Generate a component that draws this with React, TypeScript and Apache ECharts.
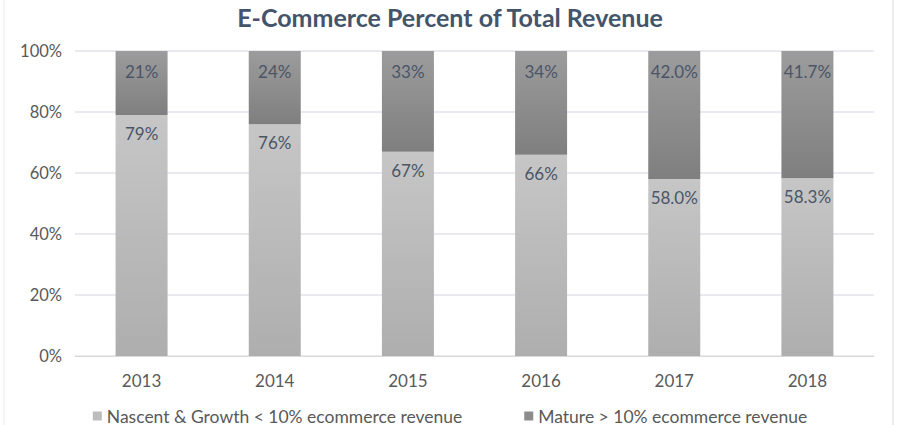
import React, { useEffect, useRef } from "react";
import * as echarts from "echarts";

const years = ["2013", "2014", "2015", "2016", "2017", "2018"];
const nascent = [79, 76, 67, 66, 58.0, 58.3];
const mature = [21, 24, 33, 34, 42.0, 41.7];
const nascentLabels = ["79%", "76%", "67%", "66%", "58.0%", "58.3%"];
const matureLabels = ["21%", "24%", "33%", "34%", "42.0%", "41.7%"];
const yTicks = [0, 20, 40, 60, 80, 100];

const FONT = "Lato";

export default function App() {
  const ref = useRef<HTMLDivElement>(null);
  useEffect(() => {
    if (!ref.current) return;
    const chart = echarts.init(ref.current, undefined, { renderer: "svg" });
    chart.setOption({
      animation: false,
      backgroundColor: "#ffffff",
      title: {
        text: "E-Commerce Percent of Total Revenue",
        left: "center",
        top: -1,
        textStyle: { fontFamily: FONT, fontSize: 25, fontWeight: "bold", color: "#44546a" },
      },
      grid: { left: 75, right: 26, top: 51, bottom: 69, containLabel: false },
      legend: {
        bottom: -5,
        left: "center",
        itemWidth: 9,
        itemHeight: 9,
        itemGap: 62,
        textStyle: { fontFamily: FONT, fontSize: 17.5, color: "#595959" },
        data: [
          { name: "Nascent & Growth < 10% ecommerce revenue", icon: "rect", itemStyle: { color: "#bdbdbd" } },
          { name: "Mature > 10% ecommerce revenue", icon: "rect", itemStyle: { color: "#8c8c8c" } },
        ],
      },
      xAxis: {
        type: "category",
        data: years,
        axisLine: { show: true, lineStyle: { color: "#d9d9d9" } },
        axisTick: { show: false },
        axisLabel: { fontFamily: FONT, fontSize: 17, color: "#595959", margin: 16 },
      },
      yAxis: {
        type: "value",
        min: yTicks[0],
        max: yTicks[yTicks.length - 1],
        interval: 20,
        axisLine: { show: false },
        axisTick: { show: false },
        splitLine: { lineStyle: { color: "#e0e3ea", width: 1.5 } },
        axisLabel: {
          fontFamily: FONT,
          fontSize: 16.5,
          color: "#595959",
          margin: 13,
          formatter: (v: number) => v + "%",
        },
      },
      series: [
        {
          name: "Nascent & Growth < 10% ecommerce revenue",
          type: "bar",
          stack: "total",
          barWidth: 52,
          data: nascent,
          itemStyle: {
            color: new echarts.graphic.LinearGradient(0, 0, 0, 1, [
              { offset: 0, color: "#c6c6c6" },
              { offset: 1, color: "#aeaeae" },
            ]),
          },
          label: {
            show: true,
            position: "insideTop",
            distance: 10,
            fontFamily: FONT,
            fontSize: 17,
            color: "#4a5568",
            formatter: (p: any) => nascentLabels[p.dataIndex],
          },
        },
        {
          name: "Mature > 10% ecommerce revenue",
          type: "bar",
          stack: "total",
          barWidth: 52,
          data: mature,
          itemStyle: {
            color: new echarts.graphic.LinearGradient(0, 0, 0, 1, [
              { offset: 0, color: "#9c9c9c" },
              { offset: 1, color: "#7f7f7f" },
            ]),
          },
          label: {
            show: true,
            position: "insideTop",
            distance: 12,
            fontFamily: FONT,
            fontSize: 17,
            color: "#4a5568",
            formatter: (p: any) => matureLabels[p.dataIndex],
          },
        },
      ],
      graphic: [
        { type: "line", shape: { x1: 893, y1: 0, x2: 893, y2: 425 }, style: { stroke: "#e4e4ea", lineWidth: 1.5 } },
        { type: "line", shape: { x1: 4, y1: 0, x2: 4, y2: 425 }, style: { stroke: "#ececf0", lineWidth: 1 } },
      ],
    });
    return () => chart.dispose();
  }, []);
  return (
    <div
      ref={ref}
      style={{ position: "fixed", left: 0, top: 0, width: 900, height: 425, background: "#fff" }}
    />
  );
}
